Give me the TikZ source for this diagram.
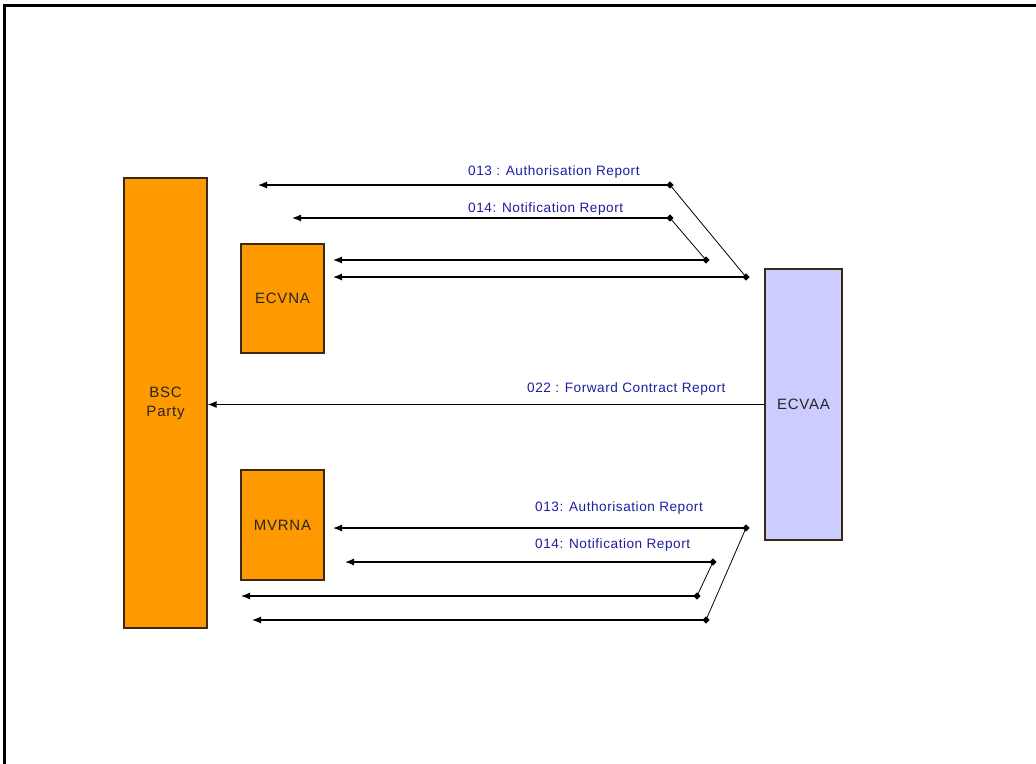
\documentclass[tikz,border=0pt]{standalone}
\usepackage{fontspec}
\setmainfont{Liberation Sans}
\newfontfamily\lblfont[LetterSpace=4]{Liberation Sans}
\newfontfamily\boxfont[LetterSpace=5]{Liberation Sans}
\usetikzlibrary{shapes.geometric,arrows.meta}
\definecolor{orangebox}{RGB}{255,153,0}
\definecolor{lavender}{RGB}{204,204,255}
\definecolor{labelblue}{RGB}{30,30,160}
\definecolor{boxline}{RGB}{60,40,20}
\begin{document}
\begin{tikzpicture}[x=1pt,y=-1pt,
  box/.style={draw=boxline, line width=1.2pt, fill=orangebox, inner sep=0pt, align=center,
    font=\boxfont\fontsize{15}{19}\selectfont, text=black!85},
  lbl/.style={text=labelblue, font=\lblfont\fontsize{13.6}{15}\selectfont, inner sep=0pt, anchor=base west},
  msg/.style={line width=1.2pt, -{Latex[length=9pt,width=7pt]}},
  link/.style={line width=0.8pt},
  dot/.style={diamond, fill=black, inner sep=0pt, minimum size=7.5pt}]
\useasboundingbox (0,0) rectangle (1036,763);
% frame
\draw[line width=3pt, line cap=rect] (4,763) -- (4,5) -- (1036,5);
% boxes
\node[box, minimum width=83pt, minimum height=450pt] (bsc) at (165.5,403) {BSC\\Party};
\node[box, minimum width=83pt, minimum height=109pt] (ecvna) at (282.5,298.5) {ECVNA};
\node[box, minimum width=83pt, minimum height=110pt] (mvrna) at (282.5,525) {MVRNA};
\node[box, fill=lavender, minimum width=77pt, minimum height=271pt] (ecvaa) at (803.5,404.5) {ECVAA};
% top junction points
\node[dot] (a1) at (670,185) {};
\node[dot] (a2) at (670,218) {};
\node[dot] (a3) at (706,260) {};
\node[dot] (a4) at (746,277) {};
\coordinate (e1) at (258,185);
\coordinate (e2) at (292,218);
\coordinate (e3) at (333,260);
\coordinate (e4) at (333,277);
\draw[link] (a1.center) -- (a4.center);
\draw[link] (a2.center) -- (a3.center);
\draw[msg] (a1.center) -- (e1);
\draw[msg] (a2.center) -- (e2);
\draw[msg] (a3.center) -- (e3);
\draw[msg] (a4.center) -- (e4);
\node[lbl] (l1) at (468,175) {013 : Authorisation Report};
\node[lbl] (l2) at (468,212) {014: Notification Report};
% middle
\draw[msg] (ecvaa.west) -- (ecvaa.west -| bsc.east);
\node[lbl] (l3) at (527,392) {022 : Forward Contract Report};
% bottom junction points
\node[dot] (b1) at (746,528) {};
\node[dot] (b2) at (713,562) {};
\node[dot] (b3) at (697,596) {};
\node[dot] (b4) at (706,620) {};
\coordinate (f1) at (333,528);
\coordinate (f2) at (345,562);
\coordinate (f3) at (241,596);
\coordinate (f4) at (252,620);
\draw[link] (b1.center) -- (b4.center);
\draw[link] (b2.center) -- (b3.center);
\draw[msg] (b1.center) -- (f1);
\draw[msg] (b2.center) -- (f2);
\draw[msg] (b3.center) -- (f3);
\draw[msg] (b4.center) -- (f4);
\node[lbl] (l4) at (535,511) {013: Authorisation Report};
\node[lbl] (l5) at (535,548) {014: Notification Report};
\end{tikzpicture}
\end{document}
